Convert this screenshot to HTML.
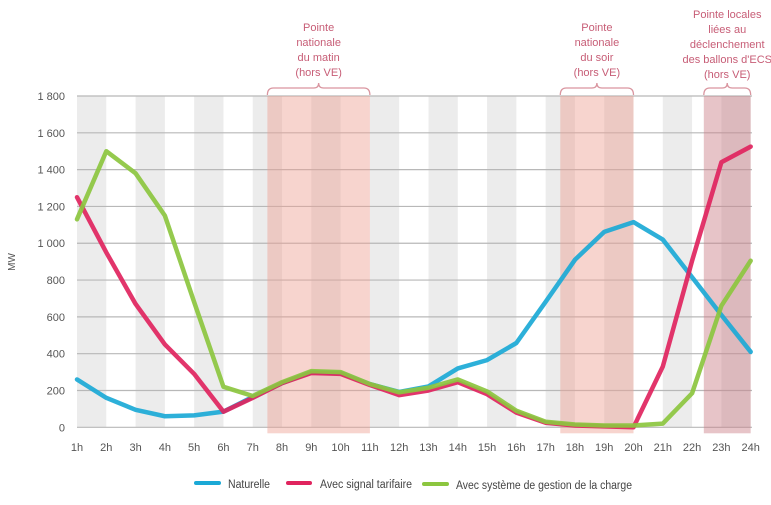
<!DOCTYPE html>
<html><head><meta charset="utf-8"><style>
body{margin:0;background:#fff;}
svg{display:block;font-family:"Liberation Sans",sans-serif;}
</style></head><body>
<svg id="chart" width="771" height="505" viewBox="0 0 771 505">
<g id="bg"></g><g id="grid"></g><g id="bands"></g><g id="annot"></g><g id="series"></g><g id="axes"></g>
<g id="legend">
<line x1="196" y1="483" x2="219" y2="483" stroke="#1ba9d6" stroke-width="4" stroke-linecap="round"/>
<text x="228" y="488" font-size="11.5" fill="#444" textLength="42" lengthAdjust="spacingAndGlyphs">Naturelle</text>
<line x1="288" y1="483" x2="310" y2="483" stroke="#e0245e" stroke-width="4" stroke-linecap="round"/>
<text x="320" y="488" font-size="11.5" fill="#444" textLength="92" lengthAdjust="spacingAndGlyphs">Avec signal tarifaire</text>
<line x1="424" y1="484" x2="447" y2="484" stroke="#8cc63f" stroke-width="4" stroke-linecap="round"/>
<text x="456" y="489" font-size="11.5" fill="#444" textLength="176" lengthAdjust="spacingAndGlyphs">Avec système de gestion de la charge</text>
</g>
</svg>
<script>
const hours=["1h","2h","3h","4h","5h","6h","7h","8h","9h","10h","11h","12h","13h","14h","15h","16h","17h","18h","19h","20h","21h","22h","23h","24h"];
const yTicks=[0,200,400,600,800,1000,1200,1400,1600,1800];
const yTickLabels=["0","200","400","600","800","1 000","1 200","1 400","1 600","1 800"];
const naturelle=[260,160,95,60,65,85,165,240,300,295,235,192,222,320,365,458,682,910,1062,1115,1020,815,610,410];
const signal=[1250,950,670,450,290,85,160,240,295,290,230,175,200,245,180,80,25,10,5,0,330,905,1440,1525];
const gestion=[1130,1500,1380,1150,680,220,170,245,305,300,235,190,215,260,195,90,30,15,10,10,20,185,660,905];
const peakStart=[7.5,17.5,22.4];
const peakEnd=[11,20,24];
const peakLabels=[["Pointe","nationale","du matin","(hors VE)"],["Pointe","nationale","du soir","(hors VE)"],["Pointe locales","liées au","déclenchement","des ballons d'ECS","(hors VE)"]];
const NS="http://www.w3.org/2000/svg";
const x=h=>77+(h-1)*29.29;
const y=v=>427.3-v*331.3/1800;
function mk(tag,attrs,parent){const e=document.createElementNS(NS,tag);for(const k in attrs)e.setAttribute(k,attrs[k]);document.getElementById(parent).appendChild(e);return e;}
for(let h=1;h<24;h+=2){const r=mk('rect',{x:x(h),y:y(1800),width:x(h+1)-x(h),height:y(0)-y(1800),fill:'#ececec'},'bg');

}
yTicks.forEach((t,i)=>{const l=mk('line',{x1:77,x2:752,y1:y(t),y2:y(t),stroke:'#b8b8b8','stroke-width':1.2},'grid');


const tx=mk('text',{x:65,y:y(t)+4,'text-anchor':'end','font-size':11,fill:'#555'},'axes');tx.textContent=yTickLabels[i];

});
hours.forEach((hl,i)=>{const tx=mk('text',{x:x(i+1),y:451,'text-anchor':'middle','font-size':11,fill:'#555'},'axes');tx.textContent=hl;

});
const mw=mk('text',{x:15,y:262,'text-anchor':'middle','font-size':10,fill:'#555',transform:'rotate(-90 15 262)'},'axes');mw.textContent='MW';


const fills=['#ee9f92','#ee9f92','#c97c84'];
peakStart.forEach((s,i)=>{const e=peakEnd[i];
const b=mk('rect',{x:x(s),y:y(1800),width:x(e)-x(s),height:y(0)-y(1800)+6,fill:fills[i],opacity:0.45},'bands');


const x1=x(s),x2=x(e),xm=(x1+x2)/2,t=86,bt=95;
const br=mk('path',{d:`M${x1} ${bt} Q${x1} ${t+2} ${x1+6} ${t+2} L${xm-5} ${t+2} Q${xm} ${t+2} ${xm} ${t-3} Q${xm} ${t+2} ${xm+5} ${t+2} L${x2-6} ${t+2} Q${x2} ${t+2} ${x2} ${bt}`,fill:'none',stroke:'#d9959f','stroke-width':1.3},'annot');


const lines=peakLabels[i];const top=79-lines.length*15+(lines.length===5?2:0);
lines.forEach((ln,j)=>{const tx=mk('text',{x:xm,y:top+15*(j+1)-3,'text-anchor':'middle','font-size':11,fill:'#c75d76'},'annot');tx.textContent=ln;

});});
[[naturelle,'#1ba9d6','naturelle'],[signal,'#e0245e','signal-tarifaire'],[gestion,'#8cc63f','gestion-charge']].forEach(([arr,c,n])=>{
const p=mk('polyline',{points:arr.map((v,i)=>x(i+1)+','+y(v)).join(' '),fill:'none',stroke:c,'stroke-width':4.5,'stroke-linejoin':'round','stroke-linecap':'round',opacity:0.92},'series');

});
</script>
</body></html>
